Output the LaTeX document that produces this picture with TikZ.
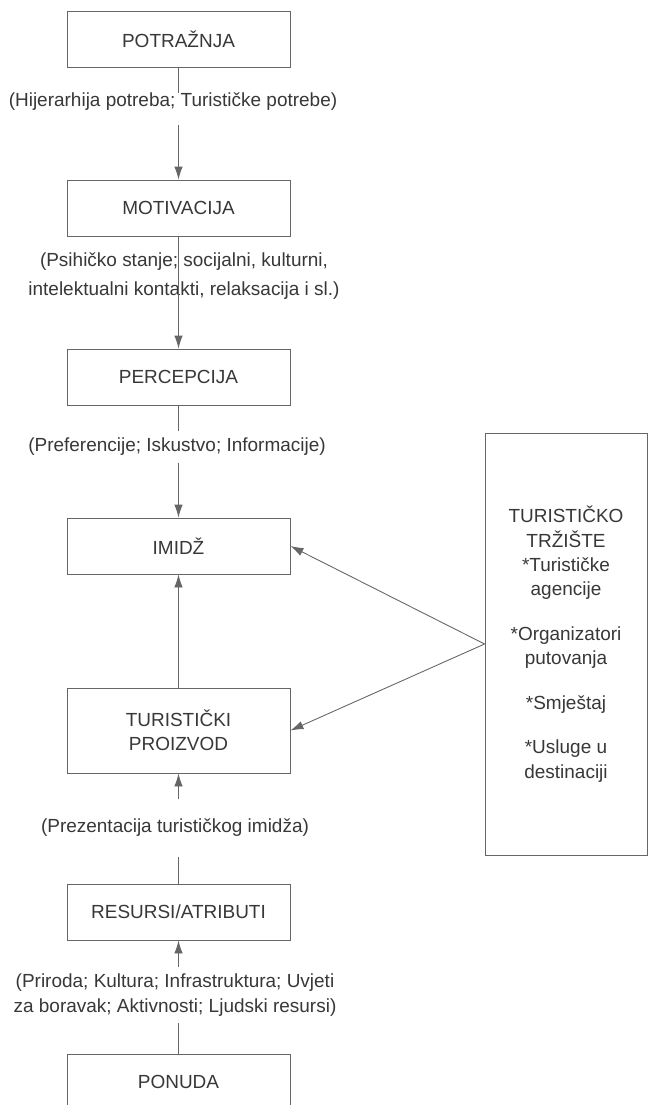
\documentclass[tikz,border=0pt]{standalone}
\usepackage{fontspec}
\setmainfont{Liberation Sans}
\usetikzlibrary{arrows.meta}
\definecolor{inkgray}{gray}{0.22}
\definecolor{linegray}{gray}{0.4}
\tikzset{
  >={Latex[length=2.6mm,width=1.7mm]},
  box/.style={draw=linegray,line width=0.5pt,minimum width=44.6mm,minimum height=11.2mm,
    align=center,text=inkgray,font=\fontsize{10.8}{13.9}\selectfont},
  note/.style={text=inkgray,align=center,inner xsep=0pt,inner ysep=0pt,
    font=\fontsize{10.8}{13.9}\selectfont},
  conn/.style={draw=linegray,line width=0.5pt},
}

\begin{document}
\begin{tikzpicture}[x=0.2mm,y=-0.2mm]
  \clip (0,0) rectangle (650,1105);
  \fill[white] (0,0) rectangle (650,1105);
  % boxes down the middle
  \node[box] (pot) at (178.5,39.5) {POTRAŽNJA};
  \node[box] (mot) at (178.5,208) {MOTIVACIJA};
  \node[box] (perc) at (178.5,377) {PERCEPCIJA};
  \node[box] (imidz) at (178.5,546) {IMIDŽ};
  \node[box,minimum height=17mm] (proizvod) at (178.5,730.5) {TURISTIČKI\\PROIZVOD};
  \node[box] (resursi) at (178.5,912) {RESURSI/ATRIBUTI};
  \node[box] (ponuda) at (178.5,1082) {PONUDA}; % runs off the page
  % market box
  \node[box,minimum width=32.4mm,minimum height=84.4mm] (trziste) at (566,644)
    {TURISTIČKO\\TRŽIŠTE\\*Turističke\\agencije\\[4mm]*Organizatori\\putovanja\\[4mm]*Smještaj\\[4mm]*Usluge u\\destinaciji};
  % labels on the connectors
  \node[note] (hij) at (173,102) {(Hijerarhija potreba; Turističke potrebe)};
  \node[note,font=\fontsize{10.8}{16.5}\selectfont] (psi) at (184,276.5)
    {(Psihičko stanje; socijalni, kulturni,\\intelektualni kontakti, relaksacija i sl.)};
  \node[note,inner ysep=1.3mm] (pref) at (177,447) {(Preferencije; Iskustvo; Informacije)};
  \node[note,inner ysep=3.9mm] (prez) at (175,828) {(Prezentacija turističkog imidža)};
  \node[note,inner ysep=1.3mm] (pri) at (175,995)
    {(Priroda; Kultura; Infrastruktura; Uvjeti\\za boravak; Aktivnosti; Ljudski resursi)};
  % connectors
  \draw[conn] (pot) -- (pot |- hij.north);
  \draw[conn,->,shorten <=2.8mm] (pot |- hij.south) -- (mot);
  \draw[conn,->] (mot) -- (perc); % goes through the text
  \draw[conn] (perc) -- (perc |- pref.north);
  \draw[conn,->] (perc |- pref.south) -- (imidz);
  \draw[conn,->] (proizvod) -- (imidz);
  \draw[conn,->] (trziste.west) -- (imidz.east);
  \draw[conn,->] (trziste.west) -- (proizvod.east);
  \draw[conn,->] (proizvod |- prez.north) -- (proizvod);
  \draw[conn] (resursi) -- (resursi |- prez.south);
  \draw[conn,->] (resursi |- pri.north) -- (resursi);
  \draw[conn] (ponuda) -- (ponuda |- pri.south);
\end{tikzpicture}
\end{document}
